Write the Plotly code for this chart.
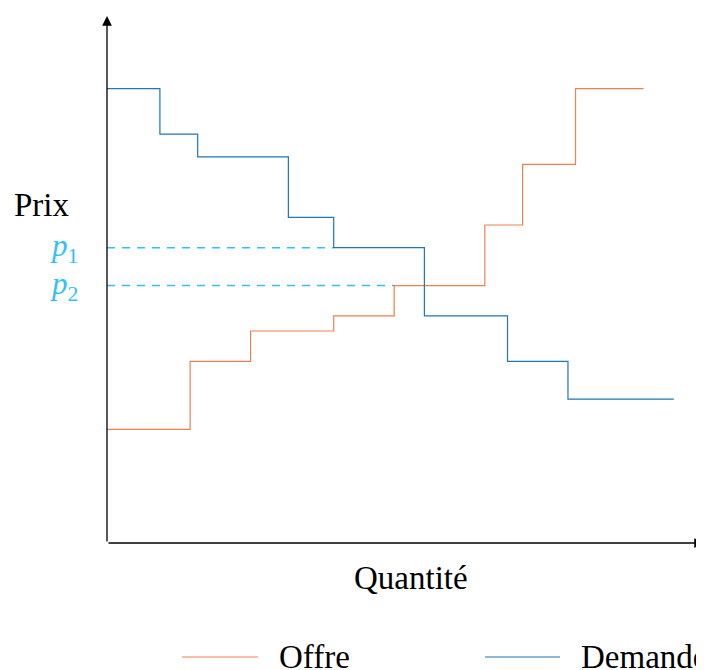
import plotly.graph_objects as go

# offre / demande en escalier
demande_q = [0, 7, 12, 24, 30, 42, 53, 61, 75]
demande_p = [60, 54, 51, 43, 39, 30, 24, 19, 19]
offre_q = [0, 11, 19, 30, 38, 50, 55, 62, 71]
offre_p = [15, 24, 28, 30, 34, 42, 50, 60, 60]

# prix repères
p_labels = ['<i>p</i><sub>1</sub>', '<i>p</i><sub>2</sub>']
p_values = [39, 34]
p_ends = [30, 38]

orange = '#F0804F'
bleu = '#1F77B4'
cyan = '#30C0FF'
FONT = 'Liberation Serif'

x_max = 79
y_max = 69.6

fig = go.Figure()

for lab, val, end in zip(p_labels, p_values, p_ends):
    fig.add_trace(go.Scatter(x=[0, end], y=[val, val], mode='lines',
                             line=dict(color=cyan, width=1.5, dash='8px,7px'),
                             showlegend=False, hoverinfo='skip'))
    fig.add_annotation(x=-0.045, xref='paper', y=val, yref='y', text=lab,
                       showarrow=False, xanchor='right', yanchor='middle',
                       font=dict(family=FONT, size=31, color=cyan))

fig.add_trace(go.Scatter(x=offre_q, y=offre_p, mode='lines', line_shape='hv',
                         line=dict(color=orange, width=1.2), name='Offre', showlegend=False))
fig.add_trace(go.Scatter(x=demande_q, y=demande_p, mode='lines', line_shape='hv',
                         line=dict(color=bleu, width=1.2), name='Demande', showlegend=False))

# axes avec flèches
fig.add_annotation(x=x_max, y=0, ax=0, ay=0, xref='x', yref='y', axref='x', ayref='y',
                   showarrow=True, arrowhead=2, arrowsize=1.5, arrowwidth=1.3,
                   arrowcolor='black', text='')
fig.add_annotation(x=0, y=y_max, ax=0, ay=0, xref='x', yref='y', axref='x', ayref='y',
                   showarrow=True, arrowhead=2, arrowsize=1.5, arrowwidth=1.3,
                   arrowcolor='black', text='')

fig.add_annotation(x=-0.109, y=0.641, xref='paper', yref='paper', text='Prix',
                   showarrow=False, xanchor='center', yanchor='middle',
                   font=dict(family=FONT, size=33, color='black'))
fig.add_annotation(x=0.509, y=-0.066, xref='paper', yref='paper', text='Quantité',
                   showarrow=False, xanchor='center', yanchor='middle',
                   font=dict(family=FONT, size=33, color='black'))

# légende faite à la main
leg_y = -0.2163
for x0, x1, xt, col, name in [(0.1256, 0.2529, 0.2848, orange, 'Offre'),
                              (0.6332, 0.7588, 0.7906, bleu, 'Demande')]:
    fig.add_shape(type='line', xref='paper', yref='paper', x0=x0, x1=x1, y0=leg_y, y1=leg_y,
                  line=dict(color=col, width=1.2))
    fig.add_annotation(x=xt, y=leg_y, xref='paper', yref='paper', text=name,
                       showarrow=False, xanchor='left', yanchor='middle',
                       font=dict(family=FONT, size=33, color='black'))

fig.update_xaxes(range=[0, x_max], visible=False, fixedrange=True)
fig.update_yaxes(range=[0, y_max], visible=False, fixedrange=True)
fig.update_layout(width=696, height=662, margin=dict(l=99, r=0, t=8, b=127),
                  plot_bgcolor='white', paper_bgcolor='white', showlegend=False)

fig.write_html('out.html')
